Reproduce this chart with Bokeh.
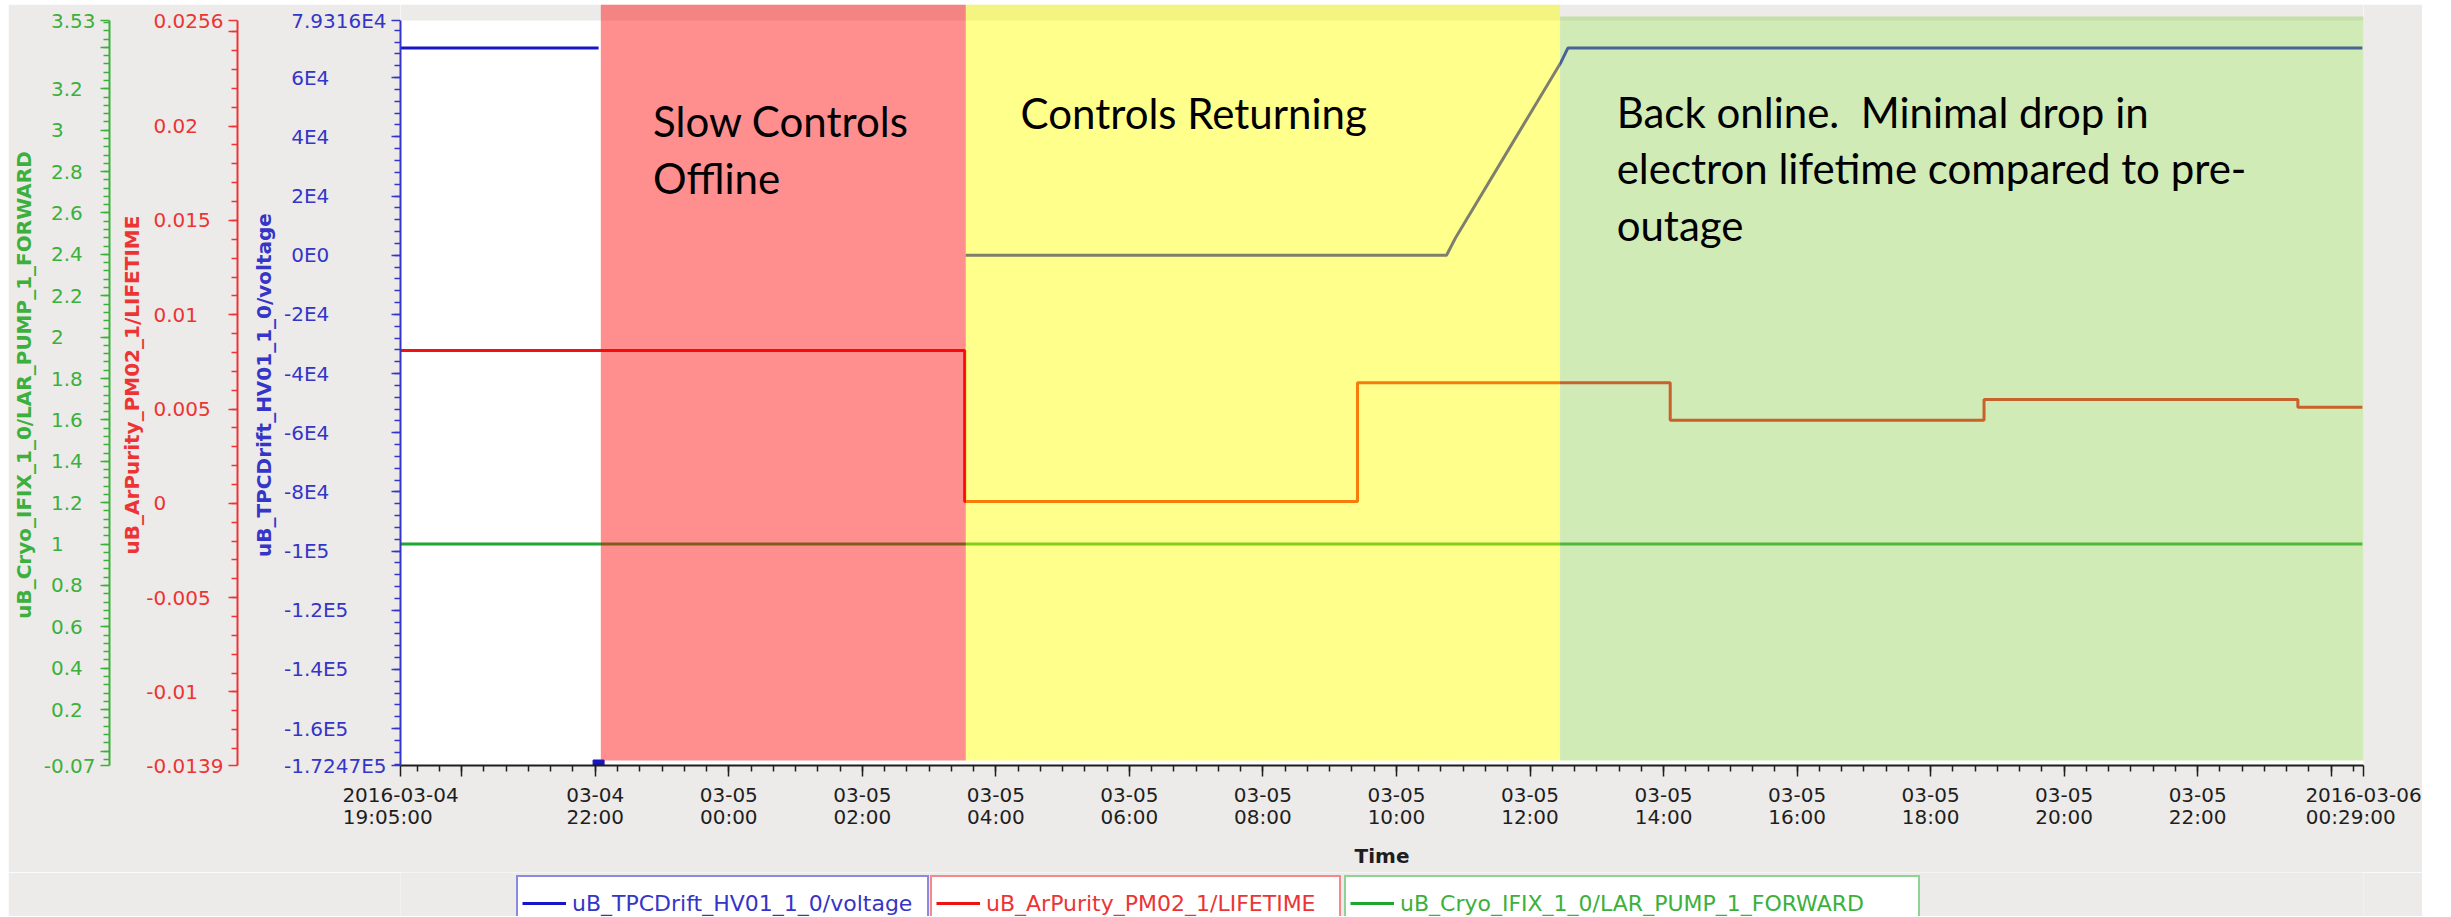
import numpy as np
import pandas as pd
from bokeh.plotting import figure
from bokeh.layouts import column
from bokeh.models import (Range1d, LinearAxis, DatetimeAxis, FixedTicker, BoxAnnotation,
                          Label, Legend, LegendItem)
from bokeh.embed import file_html
from bokeh.resources import INLINE

# ----------------------------- data -----------------------------
x_start = "2016-03-04 19:05:00"
x_end = "2016-03-06 00:29:00"

hv_name = "uB_TPCDrift_HV01_1_0/voltage"
lt_name = "uB_ArPurity_PM02_1/LIFETIME"
pump_name = "uB_Cryo_IFIX_1_0/LAR_PUMP_1_FORWARD"

hv_times = ["2016-03-04 19:05", "2016-03-04 22:03", "2016-03-04 22:04",
            "2016-03-05 03:33", "2016-03-05 10:45", "2016-03-05 10:53",
            "2016-03-05 12:28", "2016-03-05 12:34", "2016-03-06 00:28"]
hv_volts = [70000, 70000, np.nan, 0, 0, 5800, 65300, 70000, 70000]
hv_drop_times = ["2016-03-04 22:03"]
hv_drop_volts = [-172470]

lt_times = ["2016-03-04 19:05", "2016-03-05 03:32", "2016-03-05 09:25",
            "2016-03-05 14:06", "2016-03-05 18:48", "2016-03-05 23:30", "2016-03-06 00:28"]
lt_values = [0.0081, 0.0001, 0.0064, 0.0044, 0.0055, 0.0051, 0.0051]

pump_times = ["2016-03-04 19:05", "2016-03-06 00:28"]
pump_values = [1.0, 1.0]

zone_start = ["2016-03-04 22:05", "2016-03-05 03:33", "2016-03-05 12:27"]
zone_end = ["2016-03-05 03:33", "2016-03-05 12:27", "2016-03-06 00:31"]
zone_text = [["Slow Controls", "Offline"],
             ["Controls Returning"],
             ["Back online.\u00a0 Minimal drop in", "electron lifetime compared to pre-", "outage"]]

hv_lim = (-172470, 79316)
lt_lim = (-0.0139, 0.0256)
pump_lim = (-0.07, 3.53)

hv_ticks = [-172470, -160000, -140000, -120000, -100000, -80000, -60000, -40000,
            -20000, 0, 20000, 40000, 60000, 79316]
hv_tick_labels = ["-1.7247E5", "-1.6E5", "-1.4E5", "-1.2E5", "-1E5", "-8E4", "-6E4", "-4E4",
                  "-2E4", "0E0", "2E4", "4E4", "6E4", "7.9316E4"]
lt_ticks = [-0.0139, -0.01, -0.005, 0.0, 0.005, 0.01, 0.015, 0.02, 0.025, 0.0256]
lt_tick_labels = ["-0.0139", "-0.01", "-0.005", "0", "0.005", "0.01", "0.015", "0.02", "", "0.0256"]
pump_ticks = [-0.07, 0.0, 0.2, 0.4, 0.6, 0.8, 1.0, 1.2, 1.4, 1.6, 1.8, 2.0, 2.2, 2.4,
              2.6, 2.8, 3.0, 3.2, 3.4, 3.53]
pump_tick_labels = ["-0.07", "", "0.2", "0.4", "0.6", "0.8", "1", "1.2", "1.4", "1.6", "1.8",
                    "2", "2.2", "2.4", "2.6", "2.8", "3", "3.2", "", "3.53"]

x_ticks = ["2016-03-04 19:05", "2016-03-04 20:00", "2016-03-04 22:00",
           "2016-03-05 00:00", "2016-03-05 02:00", "2016-03-05 04:00", "2016-03-05 06:00",
           "2016-03-05 08:00", "2016-03-05 10:00", "2016-03-05 12:00", "2016-03-05 14:00",
           "2016-03-05 16:00", "2016-03-05 18:00", "2016-03-05 20:00", "2016-03-05 22:00",
           "2016-03-06 00:00", "2016-03-06 00:29"]
x_date_labels = ["2016-03-04", "", "03-04"] + ["03-05"] * 12 + ["", "2016-03-06"]
x_time_labels = ["19:05:00", "", "22:00", "00:00", "02:00", "04:00", "06:00", "08:00",
                 "10:00", "12:00", "14:00", "16:00", "18:00", "20:00", "22:00", "", "00:29:00"]

# ----------------------------- style -----------------------------
BG = "#ECEBE9"
BLUE, BLUE_T = "#1616C8", "#3535C8"
RED, RED_T = "#F01212", "#EC3434"
GREEN, GREEN_T = "#1CA82E", "#3CB03C"
DARK = "#1E1E1E"
FS, PS = "\u2007", "\u2008"   # figure space / punctuation space

OX, OY = 8, 4                 # page offset of the canvas (layout margin)


def ms(t):
    return (pd.Timestamp(t) - pd.Timestamp("1970-01-01")).total_seconds() * 1000.0


def pad_labels(labels):
    """Pad labels so that their digits line up on the left, as in the original."""
    def counts(s):
        core = s.lstrip("-")
        return sum(c.isdigit() for c in core), core.count(".")
    nd = max(counts(l)[0] for l in labels if l)
    npnt = max(counts(l)[1] for l in labels if l)
    out = []
    for l in labels:
        if not l:
            out.append("")
            continue
        d, q = counts(l)
        out.append(l + PS * (npnt - q) + FS * (nd - d))
    return out


X0, X1 = ms(x_start), ms(x_end)
W, H = 2414, 868
FL, FR, FT, FB = 389, 2355, 0, 761      # frame in canvas pixels
AXT = 16                                # axes start 16px below frame top
TOP_PX = FB - FT                        # frame height


def ext(lim):
    span = lim[1] - lim[0]
    return (lim[0], lim[1] + AXT * span / (TOP_PX - AXT))


hv_r_lim, lt_r_lim, pump_r_lim = ext(hv_lim), ext(lt_lim), ext(pump_lim)


def x_px(page_x):
    return X0 + (page_x - OX - FL) / (FR - FL) * (X1 - X0)


def y_px(page_y):
    cy = page_y - OY
    return hv_r_lim[1] - (cy - FT) / TOP_PX * (hv_r_lim[1] - hv_r_lim[0])


p = figure(width=W, height=H, x_axis_type="datetime",
           x_range=Range1d(X0, X1), y_range=Range1d(*hv_r_lim),
           output_backend="svg", toolbar_location=None, title=None,
           min_border_left=FL, min_border_right=W - FR, min_border_top=FT,
           min_border_bottom=H - FB,
           background_fill_color="white", border_fill_color=BG, outline_line_color=None)
p.extra_y_ranges = {"lt": Range1d(*lt_r_lim), "pump": Range1d(*pump_r_lim)}
p.xgrid.visible = False
p.ygrid.visible = False


def style_y(ax, color, lim, ticks, labels, minor, title, title_standoff):
    ax.bounds = lim
    ax.ticker = FixedTicker(ticks=list(ticks), minor_ticks=list(minor))
    ax.major_label_overrides = {t: l for t, l in zip(ticks, pad_labels(labels))}
    ax.axis_line_color = color
    ax.axis_line_width = 2
    ax.major_tick_line_color = color
    ax.minor_tick_line_color = color
    ax.major_tick_line_width = 1.5
    ax.minor_tick_line_width = 1.5
    ax.major_tick_out = 9
    ax.major_tick_in = 0
    ax.minor_tick_out = 6
    ax.minor_tick_in = 0
    ax.major_label_text_color = color
    ax.major_label_text_font = "DejaVu Sans"
    ax.major_label_text_font_size = "20px"
    ax.major_label_standoff = 5
    ax.axis_label = title
    ax.axis_label_text_color = color
    ax.axis_label_text_font = "DejaVu Sans"
    ax.axis_label_text_font_style = "bold"
    ax.axis_label_text_font_size = "20px"
    ax.axis_label_standoff = title_standoff


def spacer(gap):
    # an empty axis whose (invisible) title only reserves some horizontal room
    return LinearAxis(y_range_name="pump", ticker=FixedTicker(ticks=[]),
                      axis_line_color=None, major_tick_out=0, major_tick_in=0,
                      minor_tick_out=0, minor_tick_in=0, major_tick_line_color=None,
                      minor_tick_line_color=None, major_label_standoff=0,
                      axis_label="\u2007", axis_label_text_font_size="1px",
                      axis_label_text_color=BG, axis_label_standoff=max(gap - 1, 0))


hv_axis = p.yaxis[0]
style_y(hv_axis, BLUE_T, hv_lim, hv_ticks, hv_tick_labels,
        np.arange(-172000, 79317, 4000).tolist(), hv_name, 5)
p.add_layout(spacer(8), "left")
lt_axis = LinearAxis(y_range_name="lt")
style_y(lt_axis, RED_T, lt_lim, lt_ticks, lt_tick_labels,
        np.round(np.arange(-0.013, 0.02561, 0.001), 4).tolist(), lt_name, -1)
p.add_layout(lt_axis, "left")
p.add_layout(spacer(5), "left")
pump_axis = LinearAxis(y_range_name="pump")
style_y(pump_axis, GREEN_T, pump_lim, pump_ticks, pump_tick_labels,
        np.round(np.arange(-0.04, 3.5301, 0.04), 2).tolist(), pump_name, 5)
p.add_layout(pump_axis, "left")

# x axes: date row (with ticks) and time row (with title)
x_tick_ms = [ms(t) for t in x_ticks]
x_minor_ms = [ms(t) for t in pd.date_range("2016-03-04 19:20", "2016-03-06 00:20", freq="20min")]
time_labels = [l + FS * 2 if l in ("19:05:00", "00:29:00") else l for l in x_time_labels]

xa = p.xaxis[0]
xa.ticker = FixedTicker(ticks=x_tick_ms, minor_ticks=x_minor_ms)
xa.major_label_overrides = dict(zip(x_tick_ms, x_date_labels))
xa.axis_line_color = DARK
xa.axis_line_width = 2
xa.major_tick_line_color = DARK
xa.minor_tick_line_color = DARK
xa.major_tick_line_width = 1.5
xa.minor_tick_line_width = 1.5
xa.major_tick_out = 11
xa.major_tick_in = 0
xa.minor_tick_out = 6
xa.minor_tick_in = 0
xa.major_label_standoff = 11
xa.major_label_text_font = "DejaVu Sans"
xa.major_label_text_font_size = "20px"
xa.major_label_text_color = DARK

xb = DatetimeAxis(ticker=FixedTicker(ticks=x_tick_ms, minor_ticks=[]),
                  major_label_overrides=dict(zip(x_tick_ms, time_labels)),
                  axis_line_color=None, major_tick_line_color=None, minor_tick_line_color=None,
                  major_tick_out=0, major_tick_in=0, minor_tick_out=0, minor_tick_in=0,
                  major_label_standoff=0, major_label_text_font="DejaVu Sans",
                  major_label_text_font_size="20px", major_label_text_color=DARK,
                  axis_label="Time", axis_label_text_font="DejaVu Sans",
                  axis_label_text_font_style="bold", axis_label_text_font_size="20px",
                  axis_label_text_color=DARK, axis_label_standoff=12)
p.add_layout(xb, "below")

# gray strip above the axes (screen area above the original plot)
p.add_layout(BoxAnnotation(bottom=hv_lim[1], fill_color=BG, fill_alpha=1.0, line_color=None))

# ----------------------------- series -----------------------------
hv_r = p.line(pd.to_datetime(hv_times), hv_volts, line_color=BLUE, line_width=3)
p.scatter(pd.to_datetime(hv_drop_times), hv_drop_volts, marker="square", size=11,
          fill_color=BLUE, line_color=BLUE)
lt_r = p.step(pd.to_datetime(lt_times), lt_values, mode="after", y_range_name="lt",
              line_color=RED, line_width=3)
pump_r = p.line(pd.to_datetime(pump_times), pump_values, y_range_name="pump",
                line_color=GREEN, line_width=3)

# ----------------------------- annotation zones -----------------------------
zone_fill = [("#FF0000", 0.44), ("#FFFF00", 0.45), ("#92D050", 0.42)]
zone_top = [None, None, y_px(16)]
for s, e, (c, a), tp in zip(zone_start, zone_end, zone_fill, zone_top):
    p.add_layout(BoxAnnotation(left=ms(s), right=ms(e), top=tp, bottom=y_px(760),
                               fill_color=c, fill_alpha=a, line_color=None))

LABEL_DY = 13
text_pos = [[(650, 133), (650, 190)], [(1018, 125)], [(1615, 124), (1615, 180), (1615, 237)]]
for lines, poss in zip(zone_text, text_pos):
    for t, (px, py) in zip(lines, poss):
        p.add_layout(Label(x=x_px(px), y=y_px(py - LABEL_DY), text=t, text_font="Lato",
                           text_font_size="42px", text_color="black",
                           text_baseline="alphabetic", text_align="left"))

# ----------------------------- legend strip -----------------------------
LH = 44
q = figure(width=W, height=LH, x_range=Range1d(0, W), y_range=Range1d(0, LH),
           x_axis_location=None, y_axis_location=None, min_border=0,
           toolbar_location=None, output_backend="svg", title=None,
           background_fill_color=BG, border_fill_color=BG, outline_line_color=None)
q.grid.visible = False

LEG_TOP_PAGE = 879
leg_specs = [(hv_name, BLUE_T, BLUE, 513, 351),
             (lt_name, RED_T, RED, 927, 349),
             (pump_name, GREEN_T, GREEN, 1341, 514)]
for name, tcol, lcol, left_page, lw in leg_specs:
    # sample-line renderer for the legend (its points lie outside the strip's range)
    r = q.line(x=[-200, -100], y=[-50, -50], line_color=lcol, line_width=3)
    lg = Legend(items=[LegendItem(label=name, renderers=[r])],
                location=(left_page - OX - FL, LH - (LEG_TOP_PAGE - OY - H) - 52),
                orientation="horizontal", padding=4, spacing=0, margin=0,
                glyph_width=44, glyph_height=44, label_standoff=6, label_width=lw,
                label_height=20, border_line_color=lcol, border_line_width=2,
                background_fill_color="white", background_fill_alpha=1.0,
                label_text_color=tcol, label_text_font="DejaVu Sans",
                label_text_font_size="22px")
    q.add_layout(lg)

layout = column(p, q, spacing=0, margin=(OY, 0, 0, OX))
open("out.html", "w").write(file_html(layout, INLINE))
